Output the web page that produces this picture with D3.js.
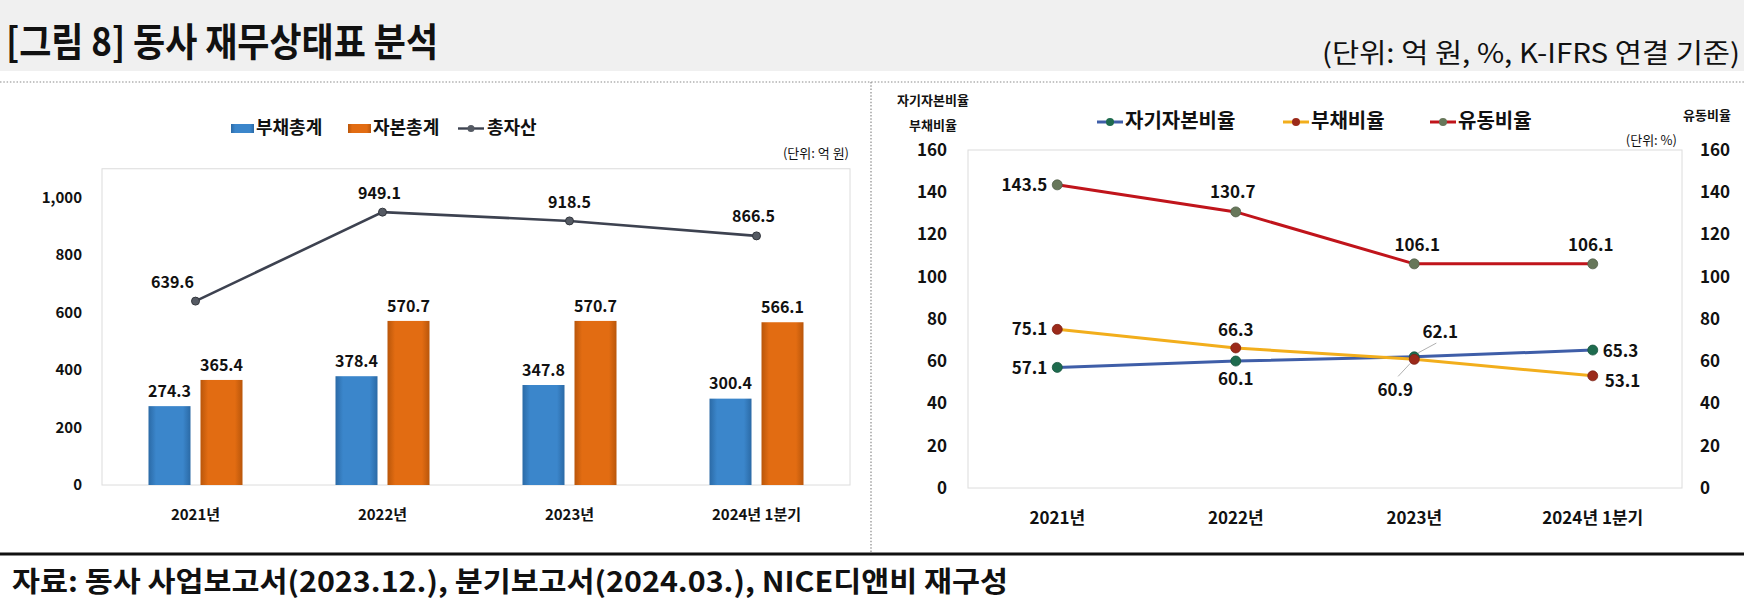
<!DOCTYPE html>
<html>
<head>
<meta charset="utf-8">
<script src="https://cdn.jsdelivr.net/npm/d3@7"></script>
<style>
  body { margin: 0; background: #fff; }
  text { font-family: "Noto Sans CJK KR", "Noto Sans", sans-serif; }
  .axis path { display: none; }
</style>
</head>
<body>
<svg id="chart" width="1744" height="602"></svg>
<script>
// categories
var years = ["2021년", "2022년", "2023년", "2024년 1분기"];

// left chart (억 원)
var debtTotal   = [274.3, 378.4, 347.8, 300.4];
var equityTotal = [365.4, 570.7, 570.7, 566.1];
var totalAssets = [639.6, 949.1, 918.5, 866.5];
var leftTicks   = [0, 200, 400, 600, 800, 1000];

// right chart (%)
var equityRatio  = [57.1, 60.1, 62.1, 65.3];
var debtRatio    = [75.1, 66.3, 60.9, 53.1];
var currentRatio = [143.5, 130.7, 106.1, 106.1];
var rightTicks   = [0, 20, 40, 60, 80, 100, 120, 140, 160];

var svg = d3.select("#chart");
var defs = svg.append("defs");

// bar shading
var addGrad = function(id, edge, mid) {
  var g = defs.append("linearGradient").attr("id", id).attr("x1", 0).attr("x2", 1).attr("y1", 0).attr("y2", 0);
  g.append("stop").attr("offset", "0%").attr("stop-color", edge);
  g.append("stop").attr("offset", "18%").attr("stop-color", mid);
  g.append("stop").attr("offset", "82%").attr("stop-color", mid);
  g.append("stop").attr("offset", "100%").attr("stop-color", edge);
};
addGrad("gBlue", "#2b6aa6", "#3b86cb");
addGrad("gOrange", "#b9560a", "#e26c12");

// ---- header ----
svg.append("rect").attr("x", 0).attr("y", 0).attr("width", 1744).attr("height", 71).attr("fill", "#f0f0f0");
svg.append("text").attr("x", 6).attr("y", 56)
  .attr("font-size", 39).attr("font-weight", 700).attr("fill", "#111")
  .attr("textLength", 432).attr("lengthAdjust", "spacingAndGlyphs")
  .text("[그림 8] 동사 재무상태표 분석");
svg.append("text").attr("x", 1740).attr("y", 63).attr("text-anchor", "end")
  .attr("font-size", 27).attr("fill", "#111")
  .attr("textLength", 418).attr("lengthAdjust", "spacingAndGlyphs")
  .text("(단위: 억 원, %, K-IFRS 연결 기준)");

// frame lines
svg.append("line").attr("x1", 0).attr("x2", 1744).attr("y1", 82).attr("y2", 82)
  .attr("stroke", "#8a8a8a").attr("stroke-width", 1.2).attr("stroke-dasharray", "1.5,1.8");
svg.append("line").attr("x1", 871).attr("x2", 871).attr("y1", 82).attr("y2", 553)
  .attr("stroke", "#8a8a8a").attr("stroke-width", 1.2).attr("stroke-dasharray", "1.5,1.8");
svg.append("line").attr("x1", 0).attr("x2", 1744).attr("y1", 554).attr("y2", 554)
  .attr("stroke", "#111").attr("stroke-width", 3);
svg.append("text").attr("x", 12).attr("y", 592)
  .attr("font-size", 28).attr("font-weight", 700).attr("fill", "#111")
  .attr("textLength", 996).attr("lengthAdjust", "spacingAndGlyphs")
  .text("자료: 동사 사업보고서(2023.12.), 분기보고서(2024.03.), NICE디앤비 재구성");

// ---- left chart ----
var xL = d3.scaleBand().domain(years).range([102, 850]);
var yL = d3.scaleLinear().domain([0, 1100]).range([485, 168.75]);
var cxL = function(i) { return xL(years[i]) + xL.bandwidth() / 2; };

svg.append("rect").attr("x", xL.range()[0]).attr("y", yL(1100)).attr("width", xL.range()[1] - xL.range()[0])
  .attr("height", yL(0) - yL(1100)).attr("fill", "#fff").attr("stroke", "#dcdcdc");

var axL = svg.append("g").attr("class", "axis").attr("transform", "translate(85,0)")
  .call(d3.axisLeft(yL).tickValues(leftTicks).tickSize(0).tickPadding(3).tickFormat(d3.format(",")));
axL.selectAll("text").attr("font-size", 15).attr("font-weight", 700).attr("fill", "#111")
  .style("font-family", "'Noto Sans CJK KR', sans-serif");

var axLx = svg.append("g").attr("class", "axis").attr("transform", "translate(0,485)")
  .call(d3.axisBottom(xL).tickSize(0).tickPadding(24));
axLx.selectAll("text").attr("font-size", 15).attr("font-weight", 700).attr("fill", "#111")
  .style("font-family", "'Noto Sans CJK KR', sans-serif");

var barW = 42;
svg.selectAll(".bDebt").data(debtTotal).enter().append("rect")
  .attr("x", function(d, i) { return cxL(i) - 5 - barW; })
  .attr("y", function(d) { return yL(d); })
  .attr("width", barW).attr("height", function(d) { return yL(0) - yL(d); })
  .attr("fill", "url(#gBlue)");
svg.selectAll(".bEq").data(equityTotal).enter().append("rect")
  .attr("x", function(d, i) { return cxL(i) + 5; })
  .attr("y", function(d) { return yL(d); })
  .attr("width", barW).attr("height", function(d) { return yL(0) - yL(d); })
  .attr("fill", "url(#gOrange)");

var lblStyle = function(sel, size) {
  sel.attr("font-size", size).attr("font-weight", 700).attr("fill", "#111").attr("dy", "0.35em");
};
svg.selectAll(".lDebt").data(debtTotal).enter().append("text")
  .attr("x", function(d, i) { return cxL(i) - 5 - barW / 2; })
  .attr("y", function(d) { return yL(d) - 15; })
  .attr("text-anchor", "middle").call(lblStyle, 16)
  .text(function(d) { return d.toFixed(1); });
svg.selectAll(".lEq").data(equityTotal).enter().append("text")
  .attr("x", function(d, i) { return cxL(i) + 5 + barW / 2; })
  .attr("y", function(d) { return yL(d) - 15; })
  .attr("text-anchor", "middle").call(lblStyle, 16)
  .text(function(d) { return d.toFixed(1); });

var lineL = d3.line().x(function(d, i) { return cxL(i); }).y(function(d) { return yL(d); });
svg.append("path").datum(totalAssets).attr("d", lineL)
  .attr("fill", "none").attr("stroke", "#3d4250").attr("stroke-width", 2.6);
svg.selectAll(".mA").data(totalAssets).enter().append("circle")
  .attr("cx", function(d, i) { return cxL(i); }).attr("cy", function(d) { return yL(d); })
  .attr("r", 4).attr("fill", "#555a63").attr("stroke", "#33363d");
var assetDx = [-23, -3, 0, -3];
svg.selectAll(".lA").data(totalAssets).enter().append("text")
  .attr("x", function(d, i) { return cxL(i) + assetDx[i]; })
  .attr("y", function(d) { return yL(d) - 19; })
  .attr("text-anchor", "middle").call(lblStyle, 16)
  .text(function(d) { return d.toFixed(1); });

// left legend
var legL = svg.append("g").attr("font-size", 18).attr("font-weight", 700).attr("fill", "#111");
legL.append("rect").attr("x", 231).attr("y", 124).attr("width", 23).attr("height", 9).attr("fill", "url(#gBlue)");
legL.append("text").attr("x", 256).attr("y", 128).attr("dy", "0.35em").text("부채총계");
legL.append("rect").attr("x", 348).attr("y", 124).attr("width", 23).attr("height", 9).attr("fill", "url(#gOrange)");
legL.append("text").attr("x", 373).attr("y", 128).attr("dy", "0.35em").text("자본총계");
legL.append("line").attr("x1", 458).attr("x2", 484).attr("y1", 128.5).attr("y2", 128.5).attr("stroke", "#3d4250").attr("stroke-width", 2.4);
legL.append("circle").attr("cx", 471).attr("cy", 128.5).attr("r", 3.5).attr("fill", "#555a63");
legL.append("text").attr("x", 487).attr("y", 128).attr("dy", "0.35em").text("총자산");
svg.append("text").attr("x", 849).attr("y", 153).attr("dy", "0.35em").attr("text-anchor", "end")
  .attr("font-size", 13).attr("fill", "#111").text("(단위: 억 원)");

// ---- right chart ----
var xR = d3.scaleBand().domain(years).range([968, 1682]);
var yR = d3.scaleLinear().domain([0, 160]).range([488, 150]);
var cxR = function(i) { return xR(years[i]) + xR.bandwidth() / 2; };

svg.append("rect").attr("x", 968).attr("y", yR(160)).attr("width", 1682 - 968)
  .attr("height", yR(0) - yR(160)).attr("fill", "#fff").attr("stroke", "#dcdcdc");

var axR1 = svg.append("g").attr("class", "axis").attr("transform", "translate(950,0)")
  .call(d3.axisLeft(yR).tickValues(rightTicks).tickSize(0).tickPadding(3));
var axR2 = svg.append("g").attr("class", "axis").attr("transform", "translate(1697,0)")
  .call(d3.axisRight(yR).tickValues(rightTicks).tickSize(0).tickPadding(3));
var axRx = svg.append("g").attr("class", "axis").attr("transform", "translate(0,488)")
  .call(d3.axisBottom(xR).tickSize(0).tickPadding(24));
[axR1, axR2, axRx].forEach(function(a) {
  a.selectAll("text").attr("font-size", 17).attr("font-weight", 700).attr("fill", "#111")
    .style("font-family", "'Noto Sans CJK KR', sans-serif");
});

var seriesR = [
  { name: "자기자본비율", values: equityRatio, line: "#3f5ea8", dot: "#1e6b4e" },
  { name: "부채비율", values: debtRatio, line: "#f2ae1c", dot: "#9b2a1a" },
  { name: "유동비율", values: currentRatio, line: "#c0141b", dot: "#67775a" }
];
// label spots: [anchor, dx, dy, leader]
var spots = [
  [["end", -10, 1], ["middle", 0, 18], ["middle", 26, -25, 1], ["start", 10, 1]],
  [["end", -10, 0], ["middle", 0, -18], ["middle", -19, 31, 1], ["start", 12, 5]],
  [["end", -10, 0], ["middle", -3, -20], ["middle", 3, -19], ["middle", -2, -19]]
];

var lineR = d3.line().x(function(d, i) { return cxR(i); }).y(function(d) { return yR(d); });
seriesR.forEach(function(s, k) {
  svg.append("path").datum(s.values).attr("d", lineR)
    .attr("fill", "none").attr("stroke", s.line).attr("stroke-width", 3);
});
seriesR.forEach(function(s, k) {
  svg.selectAll(".m" + k).data(s.values).enter().append("circle")
    .attr("cx", function(d, i) { return cxR(i); }).attr("cy", function(d) { return yR(d); })
    .attr("r", 5).attr("fill", s.dot).attr("stroke", d3.color(s.dot).darker(0.6)).attr("stroke-width", 0.8);
  s.values.forEach(function(d, i) {
    var sp = spots[k][i];
    if (sp[3]) {
      svg.append("line")
        .attr("x1", cxR(i) + Math.sign(sp[1]) * 4).attr("y1", yR(d) + Math.sign(sp[2]) * 4)
        .attr("x2", cxR(i) + sp[1] * 0.85).attr("y2", yR(d) + sp[2] * 0.55)
        .attr("stroke", "#b0b0b0").attr("stroke-width", 1);
    }
    svg.append("text").attr("x", cxR(i) + sp[1]).attr("y", yR(d) + sp[2])
      .attr("text-anchor", sp[0]).call(lblStyle, 17).text(d.toFixed(1));
  });
});

// right legend
var legR = svg.append("g").attr("font-size", 20).attr("font-weight", 700).attr("fill", "#111");
var legX = [1097, 1283, 1430];
seriesR.forEach(function(s, k) {
  legR.append("line").attr("x1", legX[k]).attr("x2", legX[k] + 26).attr("y1", 122).attr("y2", 122)
    .attr("stroke", s.line).attr("stroke-width", 3);
  legR.append("circle").attr("cx", legX[k] + 13).attr("cy", 122).attr("r", 4).attr("fill", s.dot);
  legR.append("text").attr("x", legX[k] + 28).attr("y", 121).attr("dy", "0.35em").text(s.name);
});
svg.append("text").attr("x", 933).attr("y", 100).attr("dy", "0.35em").attr("text-anchor", "middle")
  .attr("font-size", 13).attr("font-weight", 700).attr("fill", "#111").text("자기자본비율");
svg.append("text").attr("x", 933).attr("y", 125).attr("dy", "0.35em").attr("text-anchor", "middle")
  .attr("font-size", 13).attr("font-weight", 700).attr("fill", "#111").text("부채비율");
svg.append("text").attr("x", 1707).attr("y", 115).attr("dy", "0.35em").attr("text-anchor", "middle")
  .attr("font-size", 13).attr("font-weight", 700).attr("fill", "#111").text("유동비율");
svg.append("text").attr("x", 1677).attr("y", 140).attr("dy", "0.35em").attr("text-anchor", "end")
  .attr("font-size", 13).attr("fill", "#111").text("(단위: %)");
</script>
</body>
</html>
